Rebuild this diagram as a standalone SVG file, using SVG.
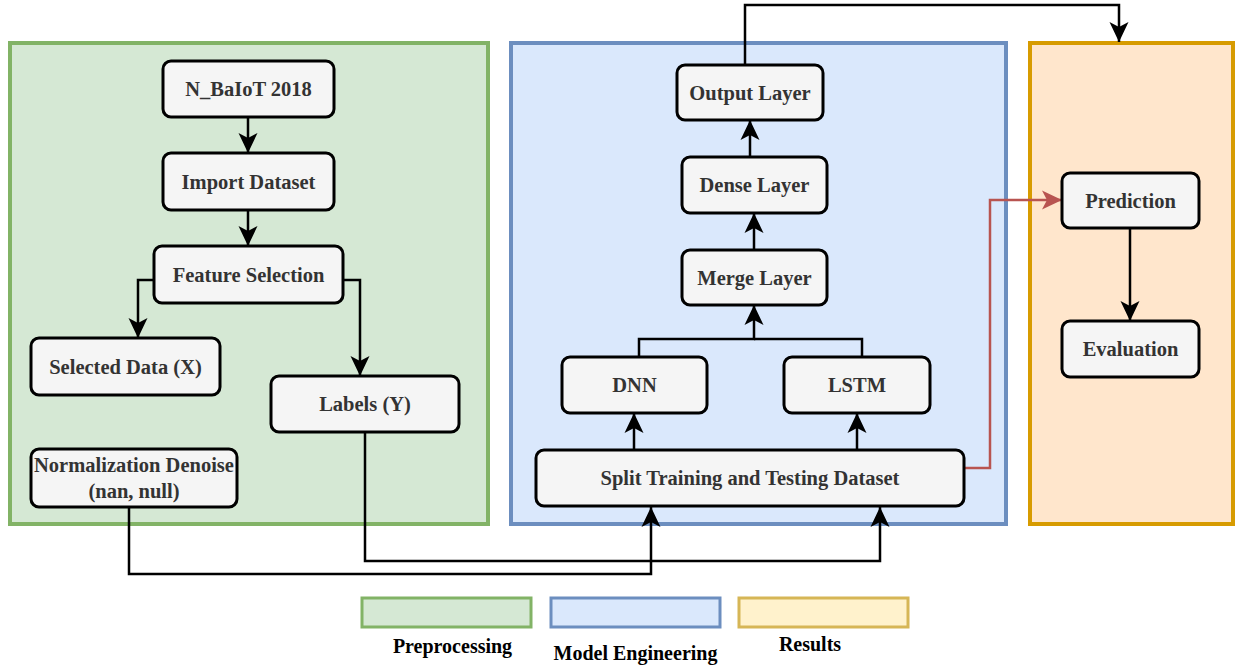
<svg xmlns="http://www.w3.org/2000/svg" width="1235" height="671" viewBox="0 0 1235 671">
<style>
.node rect{fill:#f5f5f5;stroke:#000;stroke-width:3}
.node text{font-family:"Liberation Serif","Times New Roman",serif;font-weight:bold;font-size:20.5px;fill:#333;text-anchor:middle}
.leg text{font-family:"Liberation Serif","Times New Roman",serif;font-weight:bold;font-size:20px;fill:#000;text-anchor:middle}
.conn path{fill:none;stroke:#000;stroke-width:2.5}
.conn path.red{stroke:#b85450}
</style>
<defs>
<marker id="ah" markerUnits="userSpaceOnUse" markerWidth="21" markerHeight="21" viewBox="0 0 21 21" refX="20" refY="10.5" orient="auto">
<path d="M0,1 L20,10.5 L0,20 L5,10.5 Z" fill="#000"/>
</marker>
<marker id="ahr" markerUnits="userSpaceOnUse" markerWidth="21" markerHeight="21" viewBox="0 0 21 21" refX="20" refY="10.5" orient="auto">
<path d="M0,1 L20,10.5 L0,20 L5,10.5 Z" fill="#b85450"/>
</marker>
</defs>
<rect width="1235" height="671" fill="#fff"/>
<g id="panels">
<rect id="panel-preprocessing" x="10" y="43" width="478" height="481" fill="#d5e8d4" stroke="#82b366" stroke-width="4"/>
<rect id="panel-model" x="511" y="43" width="495" height="481" fill="#dae8fc" stroke="#6c8ebf" stroke-width="4"/>
<rect id="panel-results" x="1030" y="43" width="203" height="481" fill="#ffe6cc" stroke="#d79b00" stroke-width="4"/>
</g>
<g class="conn" id="connectors">
<path d="M248,117 V153" marker-end="url(#ah)"/>
<path d="M248,210 V246" marker-end="url(#ah)"/>
<path d="M154,280 H138 V338" marker-end="url(#ah)"/>
<path d="M343,280 H360 V376" marker-end="url(#ah)"/>
<path d="M129,507 V574 H651 V507" marker-end="url(#ah)"/>
<path d="M365,432 V561 H880 V507" marker-end="url(#ah)"/>
<path d="M634,450 V413" marker-end="url(#ah)"/>
<path d="M857,450 V413" marker-end="url(#ah)"/>
<path d="M639,357 V339 H754 V305" marker-end="url(#ah)"/>
<path d="M862,357 V339 H754"/>
<path d="M754,250 V213" marker-end="url(#ah)"/>
<path d="M750,157 V120" marker-end="url(#ah)"/>
<path d="M745,65 V5 H1119 V42" marker-end="url(#ah)"/>
<path class="red" d="M964,468 H990 V200 H1062" marker-end="url(#ahr)"/>
<path d="M1130,228 V321" marker-end="url(#ah)"/>
</g>
<g class="node" id="n-baiot"><rect x="163" y="61" width="171" height="56" rx="8"/><text x="248.5" y="96">N_BaIoT 2018</text></g>
<g class="node" id="n-import"><rect x="163" y="153" width="171" height="57" rx="8"/><text x="248.5" y="188.5">Import Dataset</text></g>
<g class="node" id="n-feature"><rect x="154" y="246" width="189" height="57" rx="8"/><text x="248.5" y="281.5">Feature Selection</text></g>
<g class="node" id="n-selected"><rect x="31" y="338" width="189" height="57" rx="8"/><text x="125.5" y="373.5">Selected Data (X)</text></g>
<g class="node" id="n-labels"><rect x="271" y="376" width="188" height="56" rx="8"/><text x="365" y="411">Labels (Y)</text></g>
<g class="node" id="n-norm"><rect x="31" y="449" width="206" height="58" rx="8"/><text x="134" y="472">Normalization Denoise</text><text x="134" y="498">(nan, null)</text></g>
<g class="node" id="n-split"><rect x="536" y="450" width="428" height="56" rx="8"/><text x="750" y="485">Split Training and Testing Dataset</text></g>
<g class="node" id="n-dnn"><rect x="562" y="357" width="145" height="56" rx="8"/><text x="634.5" y="392">DNN</text></g>
<g class="node" id="n-lstm"><rect x="784" y="357" width="146" height="56" rx="8"/><text x="857" y="392">LSTM</text></g>
<g class="node" id="n-merge"><rect x="682" y="250" width="145" height="55" rx="8"/><text x="754.5" y="284.5">Merge Layer</text></g>
<g class="node" id="n-dense"><rect x="682" y="157" width="145" height="56" rx="8"/><text x="754.5" y="192">Dense Layer</text></g>
<g class="node" id="n-output"><rect x="677" y="65" width="146" height="55" rx="8"/><text x="750" y="99.5">Output Layer</text></g>
<g class="node" id="n-prediction"><rect x="1062" y="173" width="137" height="55" rx="8"/><text x="1130.5" y="207.5">Prediction</text></g>
<g class="node" id="n-evaluation"><rect x="1062" y="321" width="137" height="56" rx="8"/><text x="1130.5" y="356">Evaluation</text></g>
<g class="leg" id="legend">
<rect x="362" y="598" width="169" height="29" fill="#d5e8d4" stroke="#82b366" stroke-width="3"/>
<rect x="551" y="598" width="169" height="29" fill="#dae8fc" stroke="#6c8ebf" stroke-width="3"/>
<rect x="739" y="598" width="169" height="29" fill="#fff2cc" stroke="#d6b656" stroke-width="3"/>
<text x="452.5" y="653">Preprocessing</text>
<text x="635.5" y="660">Model Engineering</text>
<text x="810" y="651">Results</text>
</g>
</svg>
